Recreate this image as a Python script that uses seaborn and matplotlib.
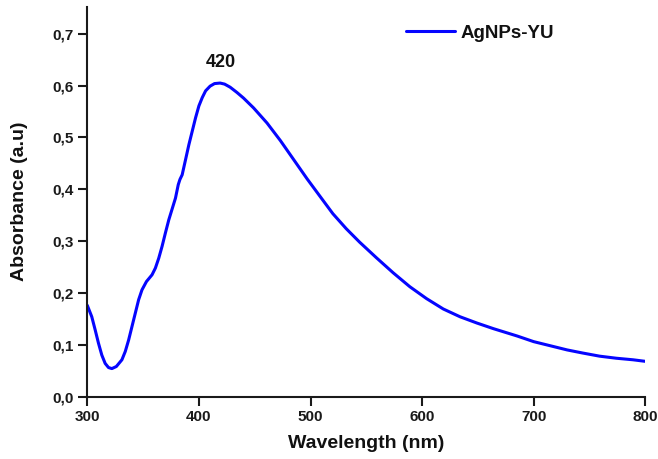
import numpy as np
import pandas as pd
import matplotlib
matplotlib.use("Agg")
import matplotlib.pyplot as plt
import seaborn as sns

# wavelength (nm) and absorbance
wavelength = [300, 304, 307, 310, 313, 316, 319, 322, 326, 331, 334, 337,
              340, 343, 346, 349, 353, 358, 361, 364, 367, 370, 373, 379,
              381.5, 383, 385, 388, 391, 394, 397, 400, 403, 406, 410, 414,
              419, 423, 428, 434, 440, 449, 461, 473, 485, 497, 509, 520,
              532, 544, 559, 574, 589, 604, 619, 634, 649, 664, 679, 685,
              700, 715, 730, 744, 759, 774, 789, 800]
absorbance = [0.176, 0.154, 0.129, 0.103, 0.080, 0.064, 0.056, 0.054, 0.058,
              0.071, 0.087, 0.109, 0.135, 0.161, 0.187, 0.206, 0.222, 0.235,
              0.248, 0.267, 0.290, 0.316, 0.341, 0.383, 0.409, 0.419, 0.428,
              0.457, 0.486, 0.512, 0.538, 0.561, 0.577, 0.590, 0.599, 0.604,
              0.605, 0.603, 0.597, 0.587, 0.576, 0.557, 0.528, 0.494, 0.457,
              0.420, 0.385, 0.353, 0.324, 0.298, 0.268, 0.239, 0.212, 0.189,
              0.169, 0.154, 0.142, 0.131, 0.121, 0.117, 0.106, 0.098, 0.090,
              0.084, 0.078, 0.074, 0.071, 0.068]
yticks = [0.0, 0.1, 0.2, 0.3, 0.4, 0.5, 0.6, 0.7]
ytick_labels = ["0,0", "0,1", "0,2", "0,3", "0,4", "0,5", "0,6", "0,7"]
xticks = [300, 400, 500, 600, 700, 800]

df = pd.DataFrame({"Wavelength": wavelength, "Absorbance": absorbance})

sns.set_style("ticks")
plt.rcParams["font.family"] = ["Liberation Sans", "DejaVu Sans"]
plt.rcParams["font.weight"] = "bold"

fig = plt.figure(figsize=(6.58, 4.59), dpi=100)
ax = fig.add_axes([0.1327, 0.136, 0.848, 0.849])

sns.lineplot(data=df, x="Wavelength", y="Absorbance", ax=ax, color="#0505ff",
             linewidth=2.2, label="AgNPs-YU", sort=False)

ax.set_xlim(300, 800)
ax.set_ylim(0, 0.752)
ax.set_xticks(xticks)
ax.set_xticklabels([str(t) for t in xticks])
ax.set_yticks(yticks)
ax.set_yticklabels(ytick_labels)
ax.tick_params(labelsize=11, width=1.5, length=6.5, colors="#1a1a1a", pad=3)
for lab in ax.get_xticklabels() + ax.get_yticklabels():
    lab.set_fontweight("bold")

sns.despine(ax=ax)
for s in ["left", "bottom"]:
    ax.spines[s].set_linewidth(1.5)
    ax.spines[s].set_color("#1a1a1a")

ax.set_xlabel("Wavelength (nm)", fontsize=14, fontweight="bold", labelpad=8,
              color="#111111")
ax.set_ylabel("Absorbance (a.u)", fontsize=14, fontweight="bold", labelpad=18,
              color="#111111")

ax.text(420, 0.628, "420", ha="center", va="bottom", fontsize=13,
        fontweight="bold", color="#111111")

leg = ax.legend(loc="upper left", bbox_to_anchor=(0.571, 0.955), frameon=False,
                fontsize=13.5, handlelength=2.6, handletextpad=0.3,
                borderpad=0, borderaxespad=0)
for t in leg.get_texts():
    t.set_fontweight("bold")
    t.set_color("#111111")

fig.savefig("out.png", dpi=100)
